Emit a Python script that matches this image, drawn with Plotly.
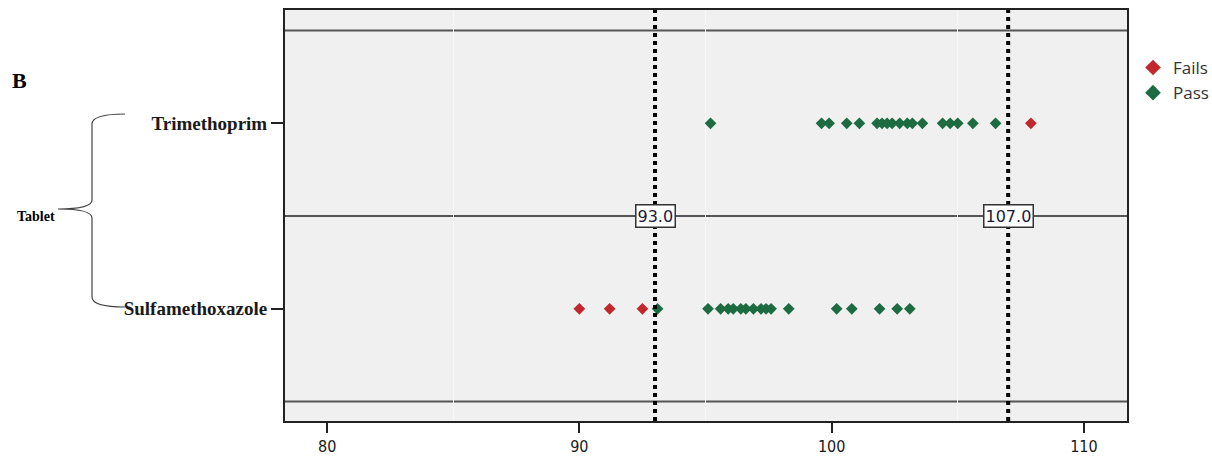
import plotly.graph_objects as go

# ---- data ----
categories = ["Sulfamethoxazole", "Trimethoprim"]
trim_pass = [95.2, 99.6, 99.9, 100.6, 101.1, 101.8, 102.0, 102.2, 102.4, 102.7,
             103.0, 103.2, 103.6, 104.4, 104.7, 105.0, 105.6, 106.5]
trim_fail = [107.9]
sulfa_pass = [93.1, 95.1, 95.6, 95.9, 96.1, 96.4, 96.6, 96.9, 97.2, 97.4, 97.6,
              98.3, 100.2, 100.8, 101.9, 102.6, 103.1]
sulfa_fail = [90.0, 91.2, 92.5]
limits = [93.0, 107.0]
x_ticks = [80, 90, 100, 110]

W, H = 1212, 457
L, R, T, B = 285, 85, 10, 36
PW, PH = W - L - R, H - T - B


def px(x):
    return (x - L) / PW


def py(y):
    return (H - B - y) / PH


GREEN = "#1d6b40"
RED = "#c1272d"

fig = go.Figure()
fig.add_trace(go.Scatter(
    x=trim_fail + sulfa_fail,
    y=["Trimethoprim"] * len(trim_fail) + ["Sulfamethoxazole"] * len(sulfa_fail),
    mode="markers", name="Fails",
    marker=dict(symbol="diamond", size=9, color=RED)))
fig.add_trace(go.Scatter(
    x=trim_pass + sulfa_pass,
    y=["Trimethoprim"] * len(trim_pass) + ["Sulfamethoxazole"] * len(sulfa_pass),
    mode="markers", name="Pass",
    marker=dict(symbol="diamond", size=9, color=GREEN)))

shapes = []
# horizontal separators
for yv in [-0.5, 0.5, 1.5]:
    shapes.append(dict(type="line", xref="paper", x0=0, x1=1, yref="y", y0=yv, y1=yv,
                       line=dict(color="#555555", width=2), layer="below"))
# limit lines
for lv in limits:
    shapes.append(dict(type="line", xref="x", x0=lv, x1=lv, yref="paper", y0=0, y1=1,
                       line=dict(color="black", width=4, dash="4px,4px")))

# curly brace (decoration)
path = (f"M {px(125)},{py(114)} Q {px(92)},{py(114)} {px(92)},{py(124)} "
        f"L {px(92)},{py(200)} Q {px(92)},{py(209)} {px(58)},{py(209)} "
        f"Q {px(92)},{py(209)} {px(92)},{py(218)} "
        f"L {px(92)},{py(297)} Q {px(92)},{py(307)} {px(125)},{py(307)}")
shapes.append(dict(type="path", xref="paper", yref="paper", path=path,
                   line=dict(color="#444444", width=1.2)))

annotations = []
for lv in limits:
    annotations.append(dict(x=lv, y=0.5, xref="x", yref="y", text=f"{lv:.1f}",
                            showarrow=False, bgcolor="white", bordercolor="#333333",
                            borderwidth=1.5, borderpad=1,
                            font=dict(family="DejaVu Sans", size=16, color="#1a1a3a")))
annotations.append(dict(x=px(10), y=py(80), xref="paper", yref="paper", text="B",
                        showarrow=False, xanchor="left", yanchor="middle",
                        font=dict(family="Liberation Serif", size=22, color="black", weight="bold")))
annotations.append(dict(x=px(15), y=py(217), xref="paper", yref="paper", text="Tablet",
                        showarrow=False, xanchor="left", yanchor="middle",
                        font=dict(family="Liberation Serif", size=14, color="black", weight="bold")))

fig.update_layout(
    width=W, height=H,
    margin=dict(l=L, r=R, t=T, b=B, autoexpand=False),
    paper_bgcolor="white", plot_bgcolor="#f0f0f0",
    shapes=shapes, annotations=annotations,
    legend=dict(x=px(1133), y=py(50), xanchor="left", yanchor="top",
                font=dict(family="Open Sans", size=17, color="#333333"),
                itemsizing="constant", tracegroupgap=0, bgcolor="rgba(0,0,0,0)"),
    xaxis=dict(range=[78.33, 111.71], tickvals=x_ticks, showgrid=False, zeroline=False,
               showline=True, linecolor="#222222", linewidth=2, mirror=True,
               ticks="outside", ticklen=10, tickwidth=2, tickcolor="#222222",
               tickfont=dict(family="DejaVu Sans Condensed", size=16, color="#1a1a1a"),
               minor=dict(tickvals=[85, 95, 105], showgrid=True, gridcolor="#f8f8f8",
                          gridwidth=1, ticks="")),
    yaxis=dict(type="category", categoryarray=categories, range=[-0.605, 1.611],
               showgrid=False, zeroline=False, showline=True, linecolor="#222222",
               linewidth=2, mirror=True, ticks="outside", ticklen=12, tickwidth=2,
               tickcolor="#222222",
               tickfont=dict(family="Liberation Serif", size=19, color="#1a1a1a", weight="bold")),
)

fig.write_html("out.html")
